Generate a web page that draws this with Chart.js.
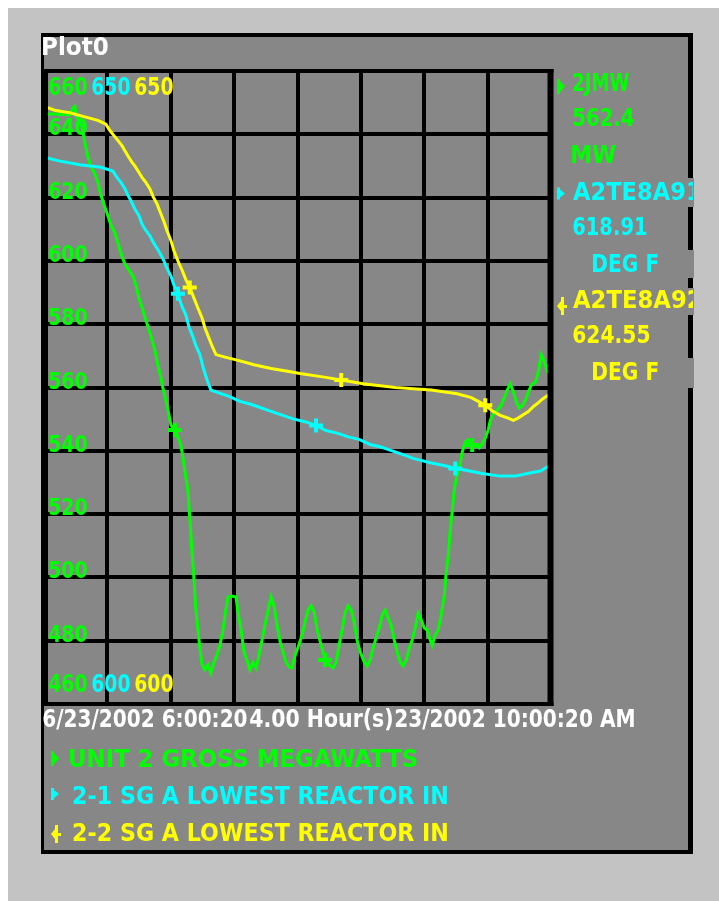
<!DOCTYPE html>
<html>
<head>
<meta charset="utf-8">
<script src="https://cdn.jsdelivr.net/npm/chart.js@4/dist/chart.umd.min.js"></script>
<style>
  html, body { margin: 0; padding: 0; background: #ffffff; }
  canvas { display: block; }
</style>
</head>
<body>
<canvas id="trend" width="719" height="901"></canvas>
<script>
// ---- time axis: minutes after 6/23/2002 6:00:20, four hours shown ----
const SPAN_MINUTES = 240;
const X_STEP = 30;
const MW_RANGE = [460, 660];
const TEMP_RANGE = [600, 650];
const MW_STEP = 20;

// ---- UNIT 2 GROSS MEGAWATTS ----
const GREEN_MIN = [0, 5.1, 12.2, 13.6, 14.6, 15.5, 17.9, 18.9, 19.8, 20.8, 22.2, 24.1, 25.5, 26.9, 28.3, 29.8, 31.7, 33.6, 35.0, 36.9, 38.3, 40.2, 42.1, 43.5, 44.9, 46.8, 48.2, 49.7, 51.1, 52.5, 53.9, 55.4, 56.3, 57.3, 58.7, 60.1, 62.0, 63.4, 64.8, 65.8, 67.2, 68.1, 69.1, 70.0, 71.0, 71.9, 72.9, 73.8, 74.8, 76.2, 77.6, 79.0, 80.5, 81.9, 83.3, 84.7, 86.2, 87.1, 89.0, 90.9, 91.8, 93.3, 94.7, 96.1, 97.5, 98.9, 100.4, 101.8, 103.2, 104.6, 106.1, 107.5, 108.9, 110.3, 111.8, 113.2, 114.6, 116.0, 117.4, 118.9, 120.3, 122.2, 123.6, 125.0, 126.4, 127.9, 129.3, 131.2, 133.1, 135.0, 136.9, 138.3, 139.7, 141.1, 142.6, 144.0, 145.4, 146.8, 148.2, 149.7, 151.6, 153.0, 154.4, 155.8, 157.2, 158.7, 160.1, 161.5, 162.9, 164.3, 165.8, 167.2, 168.6, 170.0, 171.5, 172.9, 174.3, 175.7, 177.1, 178.6, 180.0, 181.4, 182.8, 183.8, 185.2, 186.6, 188.0, 189.5, 190.4, 191.4, 192.3, 193.3, 194.2, 195.2, 196.6, 198.0, 199.4, 200.8, 202.7, 204.6, 206.0, 207.4, 208.9, 210.3, 211.3, 212.7, 214.6, 216.5, 217.9, 219.3, 220.7, 222.2, 223.6, 225.0, 226.4, 227.9, 229.3, 230.7, 232.6, 234.0, 235.4, 236.9, 238.3, 240];
const GREEN_MW = [646.4, 646.4, 646.1, 648.3, 648.9, 645.5, 642.9, 639.1, 636.0, 632.8, 630.0, 627.5, 624.9, 620.8, 618.0, 615.1, 611.3, 608.8, 605.6, 601.5, 599.0, 597.1, 595.2, 592.4, 588.3, 584.5, 581.3, 578.2, 575.0, 571.8, 567.1, 563.0, 559.8, 557.0, 552.9, 548.1, 546.6, 544.4, 541.8, 537.7, 531.4, 527.6, 518.1, 508.7, 499.2, 489.7, 483.4, 477.7, 472.4, 470.8, 472.4, 469.8, 473.3, 475.5, 478.6, 483.4, 490.3, 493.8, 494.1, 493.8, 489.1, 483.4, 476.4, 473.9, 470.8, 473.0, 471.4, 475.5, 480.2, 485.0, 489.7, 493.8, 491.0, 485.0, 479.6, 476.4, 473.3, 471.7, 471.4, 475.5, 478.0, 481.8, 485.9, 489.7, 491.0, 489.1, 483.4, 478.6, 473.9, 472.4, 471.4, 473.3, 478.6, 483.4, 489.1, 491.0, 489.7, 485.9, 480.2, 476.4, 473.3, 472.0, 473.9, 477.7, 480.9, 484.0, 488.1, 489.7, 487.2, 485.0, 480.2, 476.4, 473.3, 472.0, 473.9, 477.7, 480.2, 484.0, 488.7, 486.5, 484.0, 483.4, 480.2, 478.6, 481.8, 483.4, 488.1, 494.4, 501.7, 507.1, 515.0, 521.3, 527.6, 531.4, 534.6, 539.6, 542.8, 543.4, 541.8, 541.5, 540.9, 542.1, 544.0, 546.6, 549.7, 551.6, 552.9, 554.5, 556.7, 559.2, 561.1, 558.6, 555.4, 553.5, 554.2, 556.0, 558.6, 560.8, 561.7, 564.9, 570.3, 568.1, 564.9, 562.4];
const GREEN_MARKS = [62.0, 133.1, 202.7];

// ---- 2-1 SG A LOWEST REACTOR IN ----
const CYAN_MIN = [0, 7.0, 17.0, 26.9, 32.6, 34.5, 36.4, 38.3, 39.7, 41.6, 43.0, 44.9, 46.4, 48.2, 50.1, 51.6, 53.5, 54.9, 56.8, 58.2, 60.1, 61.5, 63.4, 65.3, 67.2, 68.6, 70.5, 71.9, 73.8, 75.3, 77.2, 79.0, 82.4, 87.6, 92.8, 97.5, 102.7, 107.9, 113.1, 118.3, 123.6, 128.8, 133.5, 138.8, 144.0, 149.2, 154.4, 159.6, 164.8, 170.0, 174.8, 181.9, 190.4, 194.7, 198.5, 207.5, 216.0, 223.1, 228.8, 235.0, 240];
const CYAN_DEGF = [643.2, 642.9, 642.6, 642.4, 642.1, 641.6, 641.2, 640.7, 640.2, 639.6, 639.1, 638.6, 637.9, 637.4, 637.0, 636.5, 636.0, 635.6, 635.0, 634.4, 633.8, 633.1, 632.4, 631.4, 630.7, 629.8, 629.0, 628.3, 627.6, 626.6, 625.6, 624.8, 624.6, 624.3, 623.9, 623.7, 623.4, 623.1, 622.8, 622.5, 622.3, 622.0, 621.6, 621.4, 621.1, 620.9, 620.5, 620.3, 620.0, 619.7, 619.4, 619.1, 618.8, 618.6, 618.5, 618.2, 618.0, 618.0, 618.2, 618.4, 618.91];
const CYAN_MARKS = [63.4, 128.8, 194.7];

// ---- 2-2 SG A LOWEST REACTOR IN ----
const YELLOW_MIN = [0, 5.1, 8.4, 12.2, 18.9, 25.5, 29.3, 31.2, 33.6, 35.5, 36.9, 38.3, 39.7, 41.6, 43.0, 44.9, 46.4, 48.2, 50.1, 51.6, 53.5, 54.9, 56.8, 58.2, 60.1, 61.5, 63.4, 65.3, 67.2, 69.0, 70.9, 72.8, 74.8, 76.2, 78.1, 79.5, 81.4, 85.7, 92.8, 99.4, 107.5, 114.6, 121.2, 133.5, 140.7, 151.1, 166.3, 183.3, 195.6, 202.3, 205.6, 208.9, 212.7, 216.0, 219.4, 222.2, 224.6, 227.4, 229.3, 231.7, 234.1, 236.0, 240];
const YELLOW_DEGF = [647.2, 646.9, 646.8, 646.7, 646.4, 646.1, 645.8, 645.3, 644.8, 644.4, 644.1, 643.7, 643.3, 642.8, 642.5, 642.0, 641.6, 641.2, 640.7, 640.1, 639.5, 638.9, 638.1, 637.4, 636.6, 635.8, 635.0, 634.3, 633.5, 632.9, 632.1, 631.3, 630.5, 629.7, 628.9, 628.3, 627.6, 627.4, 627.1, 626.8, 626.5, 626.3, 626.1, 625.8, 625.6, 625.3, 625.0, 624.8, 624.5, 624.2, 623.9, 623.6, 623.1, 622.8, 622.6, 622.4, 622.6, 622.9, 623.1, 623.5, 623.8, 624.1, 624.55];
const YELLOW_MARKS = [69.0, 140.7, 208.9];

// ---- labels ----
const TITLE = 'Plot0';
const SERIES_NAMES = ['UNIT 2 GROSS MEGAWATTS', '2-1 SG A LOWEST REACTOR IN', '2-2 SG A LOWEST REACTOR IN'];
const SERIES_TAGS = ['2JMW', 'A2TE8A91', 'A2TE8A92'];
const SERIES_UNITS = ['MW', 'DEG F', 'DEG F'];
const VALUE_DECIMALS = [1, 2, 2];
const START_LABEL = '6/23/2002 6:00:20';
const SPAN_LABEL = '4.00 Hour(s)';
const END_LABEL = '23/2002 10:00:20 AM';

const COLORS = ['#00ff00', '#00ffff', '#ffff00'];
const PANEL = '#878787';
const PAGE = '#c3c3c3';
const FONT = '"DejaVu Sans", "Liberation Sans", sans-serif';

// Draws text so its ink fills the box (x, top, w, h): height from font size,
// width from letter spacing or a horizontal squeeze.
function fitText(c, str, x, top, w, h, color, clipRight) {
  c.save();
  c.font = 'bold 100px ' + FONT;
  const capRatio = c.measureText('0').actualBoundingBoxAscent / 100;
  const size = h / capRatio;
  c.font = 'bold ' + size.toFixed(2) + 'px ' + FONT;
  if ('letterSpacing' in c) c.letterSpacing = '0px';
  const m = c.measureText(str);
  const ink = m.actualBoundingBoxLeft + m.actualBoundingBoxRight;
  let sx = 1;
  if (ink < w && str.length > 1 && 'letterSpacing' in c) {
    c.letterSpacing = ((w - ink) / (str.length - 1)).toFixed(2) + 'px';
  } else if (ink > w) {
    sx = w / ink;
  }
  if (clipRight !== undefined) {
    c.beginPath();
    c.rect(x - 4, top - 6, clipRight - x + 4, h + 12);
    c.clip();
  }
  c.fillStyle = color;
  c.textAlign = 'left';
  c.textBaseline = 'alphabetic';
  c.translate(x, top + h);
  c.scale(sx, 1);
  c.fillText(str, m.actualBoundingBoxLeft, 0);
  c.restore();
}

// Small trace symbol used beside tag names and legend entries.
function traceSymbol(c, i, x, y) {
  c.save();
  c.fillStyle = COLORS[i];
  if (i === 2) {
    c.fillRect(x + 4, y, 3, 18);
    c.beginPath();
    c.moveTo(x + 4, y + 4); c.lineTo(x, y + 9); c.lineTo(x + 4, y + 14);
    c.closePath(); c.fill();
    c.fillRect(x + 7, y + 8, 3, 3);
  } else {
    const h = i === 0 ? 15 : 12;
    c.fillRect(x, y, 3, h);
    c.beginPath();
    c.moveTo(x + 3, y + 2); c.lineTo(x + 8, y + h / 2); c.lineTo(x + 3, y + h - 2);
    c.closePath(); c.fill();
  }
  c.restore();
}

const decor = {
  id: 'decor',
  beforeDraw(chart) {
    const c = chart.ctx;
    c.save();
    c.fillStyle = '#ffffff'; c.fillRect(0, 0, 719, 901);
    c.fillStyle = PAGE; c.fillRect(8, 8, 711, 893);
    c.fillStyle = '#000000'; c.fillRect(41, 33, 652, 821);
    c.fillStyle = PANEL; c.fillRect(44, 37, 644, 813);
    c.restore();
  },
  afterDatasetsDraw(chart) {
    const c = chart.ctx;
    const a = chart.chartArea;
    c.save();
    // plot frame
    c.fillStyle = '#000000';
    c.fillRect(41, a.top - 2, a.right + 2.5 - 41, 4);
    c.fillRect(41, a.bottom - 2, a.right + 2.5 - 41, 4);
    c.fillRect(41, a.top - 2, a.left + 4 - 41, a.bottom - a.top + 4);
    c.fillRect(a.right - 3.5, a.top - 2, 6, a.bottom - a.top + 4);
    c.restore();

    // title
    fitText(c, TITLE, 43, 37, 65, 18, '#ffffff');

    // MW grid labels inside the plot
    const ys = chart.scales.y;
    ys.ticks.forEach(t => {
      if (t.value === ys.min || t.value === ys.max) return;
      const py = ys.getPixelForValue(t.value);
      fitText(c, String(t.value), 49, py - 16, 38, 17, COLORS[0]);
    });
    // range ends for every trace, top and bottom
    ['y', 'y2', 'y3'].forEach((id, i) => {
      const s = chart.scales[id];
      fitText(c, String(s.max), 49 + i * 43, 77, 38, 18, COLORS[i]);
      fitText(c, String(s.min), 49 + i * 43, 674, 38, 18, COLORS[i]);
    });

    // time axis caption
    fitText(c, START_LABEL, 43, 709, 204, 18, '#ffffff');
    fitText(c, SPAN_LABEL, 250, 709, 142, 18, '#ffffff');
    fitText(c, END_LABEL, 395, 709, 239, 18, '#ffffff');

    // current values beside the plot
    const lastValues = [GREEN_MW, CYAN_DEGF, YELLOW_DEGF].map(a => a[a.length - 1]);
    const tagW = [56, 128, 128];
    const valW = [61, 74, 77];
    const unitX = [572, 593, 593];
    const unitW = [44, 65, 65];
    c.save();
    c.fillStyle = PANEL;
    c.fillRect(684, 178, 10, 29);
    c.fillRect(684, 250, 10, 28);
    c.fillRect(684, 288, 10, 27);
    c.fillRect(684, 358, 10, 30);
    c.restore();
    for (let i = 0; i < 3; i++) {
      const base = 73 + i * 108.5;
      traceSymbol(c, i, 557, base + (i === 2 ? 7 : 6));
      fitText(c, SERIES_TAGS[i], 573, base, tagW[i], 18, COLORS[i], 693);
      fitText(c, lastValues[i].toFixed(VALUE_DECIMALS[i]), 573, base + 35, valW[i], 18, COLORS[i]);
      fitText(c, SERIES_UNITS[i], unitX[i], base + 72, unitW[i], 18, COLORS[i]);
    }

    // legend
    const legendW = [347, 374, 374];
    for (let i = 0; i < 3; i++) {
      const top = 749 + i * 37;
      traceSymbol(c, i, 51, top + 2);
      fitText(c, SERIES_NAMES[i], i === 0 ? 70 : 73, top, legendW[i], 18, COLORS[i]);
    }
  }
};

function trace(ts, vs, marks, i, axis, order) {
  return {
    label: SERIES_NAMES[i],
    data: ts.map((t, k) => ({ x: t, y: vs[k] })),
    yAxisID: axis,
    borderColor: COLORS[i],
    backgroundColor: COLORS[i],
    borderWidth: 3,
    tension: 0,
    fill: false,
    pointStyle: 'cross',
    pointBorderColor: COLORS[i],
    pointBorderWidth: 4,
    pointRadius: ctx => marks.includes(ts[ctx.dataIndex]) ? 7 : 0,
    order: order
  };
}

const gridOpts = { color: '#000000', lineWidth: 4, drawTicks: false };

new Chart(document.getElementById('trend'), {
  type: 'line',
  data: {
    datasets: [
      trace(GREEN_MIN, GREEN_MW, GREEN_MARKS, 0, 'y', 3),
      trace(CYAN_MIN, CYAN_DEGF, CYAN_MARKS, 1, 'y2', 2),
      trace(YELLOW_MIN, YELLOW_DEGF, YELLOW_MARKS, 2, 'y3', 1)
    ]
  },
  options: {
    responsive: false,
    animation: false,
    events: [],
    layout: { padding: { left: 44, right: 168, top: 71, bottom: 197 } },
    plugins: { legend: { display: false }, tooltip: { enabled: false } },
    scales: {
      x: {
        type: 'linear', min: 0, max: SPAN_MINUTES,
        ticks: { display: false, stepSize: X_STEP },
        grid: gridOpts, border: { display: false }
      },
      y: {
        min: MW_RANGE[0], max: MW_RANGE[1],
        ticks: { display: false, stepSize: MW_STEP },
        grid: gridOpts, border: { display: false }
      },
      y2: { display: false, min: TEMP_RANGE[0], max: TEMP_RANGE[1] },
      y3: { display: false, min: TEMP_RANGE[0], max: TEMP_RANGE[1] }
    }
  },
  plugins: [decor]
});
</script>
</body>
</html>
